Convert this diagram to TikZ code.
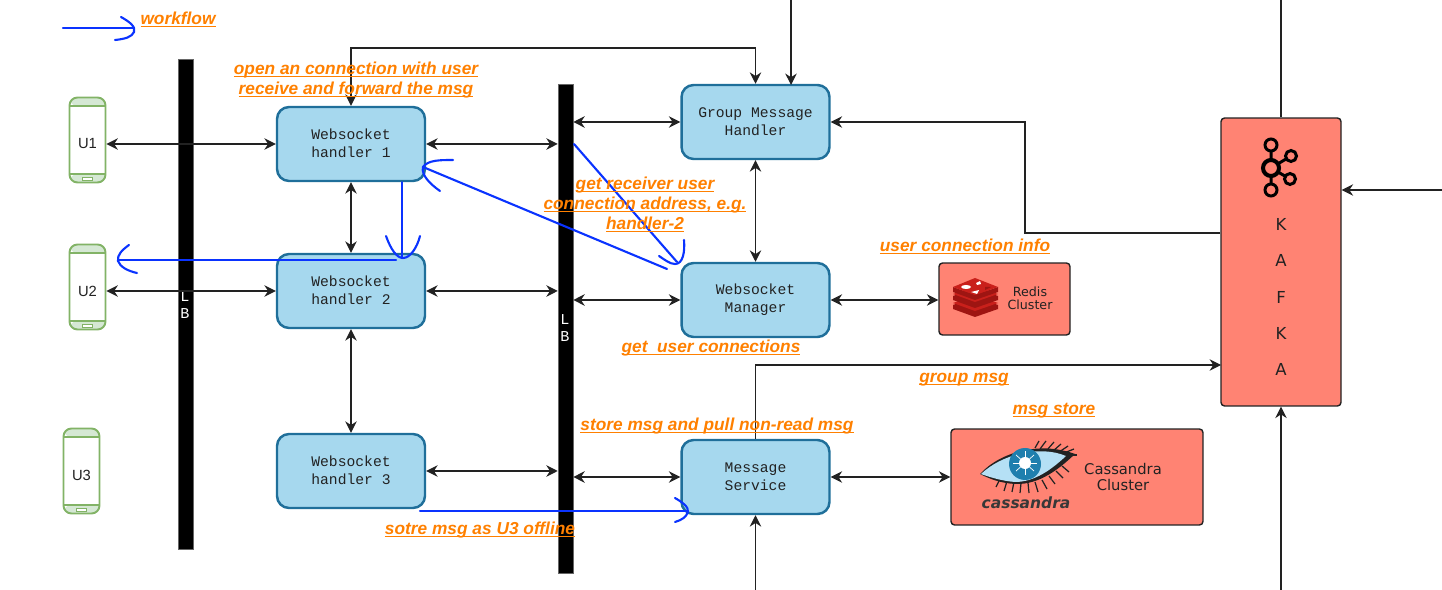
\documentclass[tikz,border=0pt]{standalone}
\usepackage{fontspec}
\setmainfont{Liberation Sans}
\setmonofont{Liberation Mono}
\newfontfamily\logofont{DejaVu Sans}
\usetikzlibrary{arrows.meta}
\usetikzlibrary{positioning}
\definecolor{handlerblue}{HTML}{A6D8EE}
\definecolor{handlerline}{HTML}{1F6F9A}
\definecolor{salmon}{HTML}{FF8373}
\definecolor{phoneline}{HTML}{82B366}
\definecolor{phonefill}{HTML}{D5E8D4}
\definecolor{noteorange}{HTML}{FF8000}
\definecolor{sketchblue}{HTML}{0A33FF}
\definecolor{inktext}{HTML}{222222}
\definecolor{redisred}{HTML}{C9201B}
\definecolor{redisdark}{HTML}{9E1512}
\definecolor{irisblue}{HTML}{1F7FAE}
\definecolor{eyepale}{HTML}{B5E0F5}
\newcommand\noteline[1]{\mbox{\vphantom{Ag}\underline{\smash{#1}}}}
\tikzset{
  link/.style={draw=inktext,line width=0.7pt,>={Stealth[length=6.5pt,width=6.5pt]}},
  sketch/.style={draw=sketchblue,line width=1.2pt,line cap=round},
  handler/.style={draw=handlerline,fill=handlerblue,line width=1.4pt,rounded corners=0.24cm,
    minimum width=2.96cm,minimum height=1.48cm,align=center,text=inktext,inner sep=0pt,
    font=\ttfamily\fontsize{8.35}{10.2}\selectfont},
  lbbar/.style={draw=black!60,fill=black,line width=0.3pt,minimum width=0.3cm,inner sep=0pt},
  lbtext/.style={text=white,align=center,inner sep=0pt,font=\ttfamily\fontsize{8.6}{9.4}\selectfont},
  store/.style={draw=inktext,fill=salmon,line width=0.8pt,rounded corners=0.07cm,inner sep=0pt},
  note/.style={text=noteorange,align=center,inner sep=0pt,font=\bfseries\itshape\fontsize{9.85}{11.4}\selectfont},
  logotext/.style={text=inktext,align=center,inner sep=0pt,font=\logofont\fontsize{7.2}{7.6}\selectfont},
  phonetext/.style={text=inktext,font=\fontsize{8.4}{10}\selectfont},
  phone/.style={draw=phoneline,fill=white,line width=1.1pt,rounded corners=0.16cm,
    minimum width=0.72cm,minimum height=1.7cm,inner sep=0pt,
    path picture={
      \fill[phonefill] (path picture bounding box.north west) rectangle ++(0.8cm,-0.17cm);
      \fill[phonefill] (path picture bounding box.south west) rectangle ++(0.8cm,0.17cm);
      \draw[phoneline,line width=0.8pt] ([yshift=-0.17cm]path picture bounding box.north west) -- ++(0.8cm,0);
      \draw[phoneline,line width=0.8pt] ([yshift=0.17cm]path picture bounding box.south west) -- ++(0.8cm,0);
      \draw[phoneline,fill=white,line width=0.4pt,sharp corners] ([xshift=-0.1cm,yshift=0.05cm]path picture bounding box.south) rectangle ++(0.2cm,0.05cm);
    }},
}
\begin{document}
\begin{tikzpicture}[x=0.02cm,y=-0.02cm]
\useasboundingbox (0,0) rectangle (1442,590);
% edge points
\coordinate (topedge) at (0,0);
\coordinate (botedge) at (0,590);
\coordinate (rightin) at (1442,190);
\coordinate (topbus) at (550,48);
\coordinate (turnA) at (1025,233);
\coordinate (gmdrop) at (791,85);
\coordinate (kafkain) at (1221,365);

% users
\node[phone] (u1) at (87.5,140) {};
\node[phone] (u2) at (87.5,287) {};
\node[phone] (u3) at (81.5,471) {};
\node[phonetext] (u1txt) at (87.5,144) {U1};
\node[phonetext] (u2txt) at (87.5,291) {U2};
\node[phonetext] (u3txt) at (81.5,475) {U3};

% load balancers
\node[lbbar,minimum height=9.8cm] (lb1) at (185.5,304) {};
\node[lbbar,minimum height=9.78cm] (lb2) at (565.5,328.5) {};
\node[lbtext] (lb1txt) at (185,305) {L\\B};
\node[lbtext] (lb2txt) at (565,328) {L\\B};

% handlers and services
\node[handler] (h1) at (351,144) {Websocket\\handler 1\vspace{1pt}};
\node[handler] (h2) at (351,291) {Websocket\\handler 2\vspace{1pt}};
\node[handler] (h3) at (351,471) {Websocket\\handler 3\vspace{1pt}};
\node[handler] (gm) at (755.5,122) {Group Message\\Handler};
\node[handler] (wm) at (755.5,300) {Websocket\\Manager};
\node[handler] (ms) at (755.5,477) {Message\\Service};

% stores
\node[store,minimum width=2.62cm,minimum height=1.44cm] (redis) at (1004.5,299) {};
\node[store,minimum width=5.04cm,minimum height=1.92cm] (cass) at (1077,477) {};
\node[store,minimum width=2.4cm,minimum height=5.76cm] (kafka) at (1281,262) {};
\node[text=inktext,align=center,inner sep=0pt,font=\logofont\fontsize{9.4}{20.6}\selectfont] (kafkatxt) at (1281,297) {K\\A\\F\\K\\A};
\node[logotext] (redistxt) at (1030,298.5) {Redis\\Cluster};
\node[logotext,font=\logofont\fontsize{8.4}{8.6}\selectfont] (casstxt) at (1123,477) {Cassandra\\Cluster};
\node[text=inktext!90,inner sep=0pt,font=\logofont\bfseries\itshape\fontsize{8.8}{10}\selectfont] (casslogo) at (1026,503) {cassandra};

% redis logo
\foreach \y in {305,296}{
  \fill[redisdark] (953,\y) -- (975,\y-8) -- (998,\y) -- (998,\y+4) -- (975,\y+12) -- (953,\y+4) -- cycle;
  \fill[redisred] (953,\y-2) -- (975,\y-10) -- (998,\y-2) -- (975,\y+6) -- cycle;
}
\fill[redisdark] (953,287) -- (975,295) -- (998,287) -- (998,292) -- (975,300) -- (953,292) -- cycle;
\fill[redisred] (953,287) -- (975,278) -- (998,287) -- (975,295) -- cycle;
\fill[white] (966,287) ellipse (5 and 2);
\fill[white] (976,283) -- (980,281) -- (981,284) -- (977,285) -- cycle;
\fill[white] (971,292) -- (979,290) -- (977,294) -- cycle;
\fill[redisdark] (985,287) -- (991,287) -- (985,290) -- cycle;

% kafka logo
\draw[black,line width=1.7pt] (1271,168) -- (1271,145) (1271,168) -- (1291,156) (1271,168) -- (1290,179) (1271,168) -- (1271,190);
\draw[black,fill=salmon,line width=1.7pt] (1271,145) circle (6);
\draw[black,fill=salmon,line width=1.7pt] (1291,156) circle (5.5);
\draw[black,fill=salmon,line width=1.7pt] (1290,179) circle (5.5);
\draw[black,fill=salmon,line width=1.7pt] (1271,190) circle (6);
\draw[black,fill=salmon,line width=2.3pt] (1271,168) circle (8);

% cassandra logo
\foreach \xa/\ya/\xb/\yb in {1035/448/1039/441,1040/449/1046/441,1047/450/1054/442,1053/451/1061/444,1059/452/1068/446,1064/453/1074/449,1068/455/1077/455,
    1000/479/996/487,1007/481/1004/491,1014/482/1012/492,1021/483/1020/493,1028/483/1029/493,1035/482/1038/492,1042/480/1047/489,1049/476/1055/484,1056/471/1063/478,1062/466/1069/472}{
  \draw[inktext,line width=0.7pt] (\xa,\ya) -- (\xb,\yb);
}
\fill[inktext] (980,474) .. controls (1000,452) and (1040,441) .. (1075,454) .. controls (1060,468) and (1040,485) .. (1015,484) .. controls (1000,483) and (990,479) .. (980,474) -- cycle;
\fill[eyepale] (981,474) .. controls (1002,454) and (1040,445) .. (1066,456) .. controls (1052,469) and (1035,482) .. (1015,482) .. controls (1003,481) and (992,478) .. (981,474) -- cycle;
\fill[irisblue] (1025,464) circle (16);
\fill[white] (1025,463) circle (6);
\foreach \xb/\yb in {1037/463,1013/463,1025/451,1025/475,1034/455,1016/471,1016/455,1034/471}{
  \draw[white,line width=0.4pt] (1025,463) -- (\xb,\yb);
}

% connectors
\draw[link,<->] (u1.east |- h1) -- (h1);
\draw[link,<->] (u2.east |- h2) -- (h2);
\draw[link,<->] (h1) -- (h2);
\draw[link,<->] (h2) -- (h3);
\draw[link,<->] (h1) -- (h1 -| lb2.west);
\draw[link,<->] (h2) -- (h2 -| lb2.west);
\draw[link,<->] (h3) -- (h3 -| lb2.west);
\draw[link,<->] (gm -| lb2.east) -- (gm);
\draw[link,<->] (wm -| lb2.east) -- (wm);
\draw[link,<->] (ms -| lb2.east) -- (ms);
\draw[link,<->] (gm) -- (wm);
\draw[link,<->] (wm.east) -- (wm.east -| redis.west);
\draw[link,<->] (ms.east) -- (ms.east -| cass.west);
\draw[link,<->] (h1.north) |- (topbus) -| (gm.north);
\draw[link,->] (gmdrop |- topedge) -- (gmdrop);
\draw[link] (kafka.north) -- (kafka.north |- topedge);
\draw[link,->] (kafka.west |- turnA) -- (turnA) |- (gm.east);
\draw[link,->] (ms.north) |- (kafkain);
\draw[link,->] (ms.south |- botedge) -- (ms.south);
\draw[link,->] (kafka.south |- botedge) -- (kafka.south);
\draw[link,->] (rightin) -- (rightin -| kafka.east);

% workflow sketches
\coordinate (wfa) at (63,28);
\coordinate (wfb) at (133,28);
\draw[sketch] (wfa) -- (wfb);
\draw[sketch] (121,17) .. controls (130,22) and (136,27) .. (134,32) .. controls (132,37) and (125,39) .. (115,40);

\coordinate (skA) at (402,181);
\coordinate (skB) at (402,258);
\draw[sketch] (h1.south -| skA) -- (skB);
\draw[sketch] (386,236) .. controls (391,250) and (397,258) .. (403,258) .. controls (410,258) and (417,248) .. (420,236);

\coordinate (skC) at (396,260);
\coordinate (skD) at (118,260);
\draw[sketch] (skC) -- (skD);
\draw[sketch] (129,245) .. controls (122,250) and (117,255) .. (118,261) .. controls (120,267) and (128,271) .. (137,273);

\coordinate (skE) at (574,144);
\coordinate (skF) at (677,262);
\draw[sketch] (skE) -- (skF);
\draw[sketch] (684,240) .. controls (685,252) and (683,264) .. (675,264) .. controls (670,264) and (665,260) .. (659,256);

\coordinate (skG) at (667,269);
\coordinate (skH) at (423,167);
\draw[sketch] (skG) -- (skH);
\draw[sketch] (453,160) .. controls (440,160) and (428,160) .. (423,167) .. controls (421,175) and (430,184) .. (440,191);

\coordinate (skI) at (420,511);
\coordinate (skJ) at (687,511);
\draw[sketch] (skI) -- (skJ);
\draw[sketch] (675,498) .. controls (682,502) and (689,507) .. (688,512) .. controls (686,517) and (682,520) .. (675,522);

% notes
\node[note] (wfnote) at (178,20) {\noteline{workflow}};
\node[note] (h1note) at (356,80) {\noteline{open an connection with user}\\\noteline{receive and forward the msg}};
\node[note] (rcvnote) at (645,205) {\noteline{get receiver user}\\\noteline{connection address, e.g.}\\\noteline{handler-2}};
\node[note] (infonote) at (965,247) {\noteline{user connection info}};
\node[note] (connnote) at (711,348) {\noteline{get\ \ user connections}};
\node[note] (groupnote) at (964,378) {\noteline{group msg}};
\node[note] (storenote) at (1054,410) {\noteline{msg store}};
\node[note] (pullnote) at (717,426) {\noteline{store msg and pull non-read msg}};
\node[note] (sotrenote) at (480,530) {\noteline{sotre msg as U3 offline}};
\end{tikzpicture}
\end{document}
